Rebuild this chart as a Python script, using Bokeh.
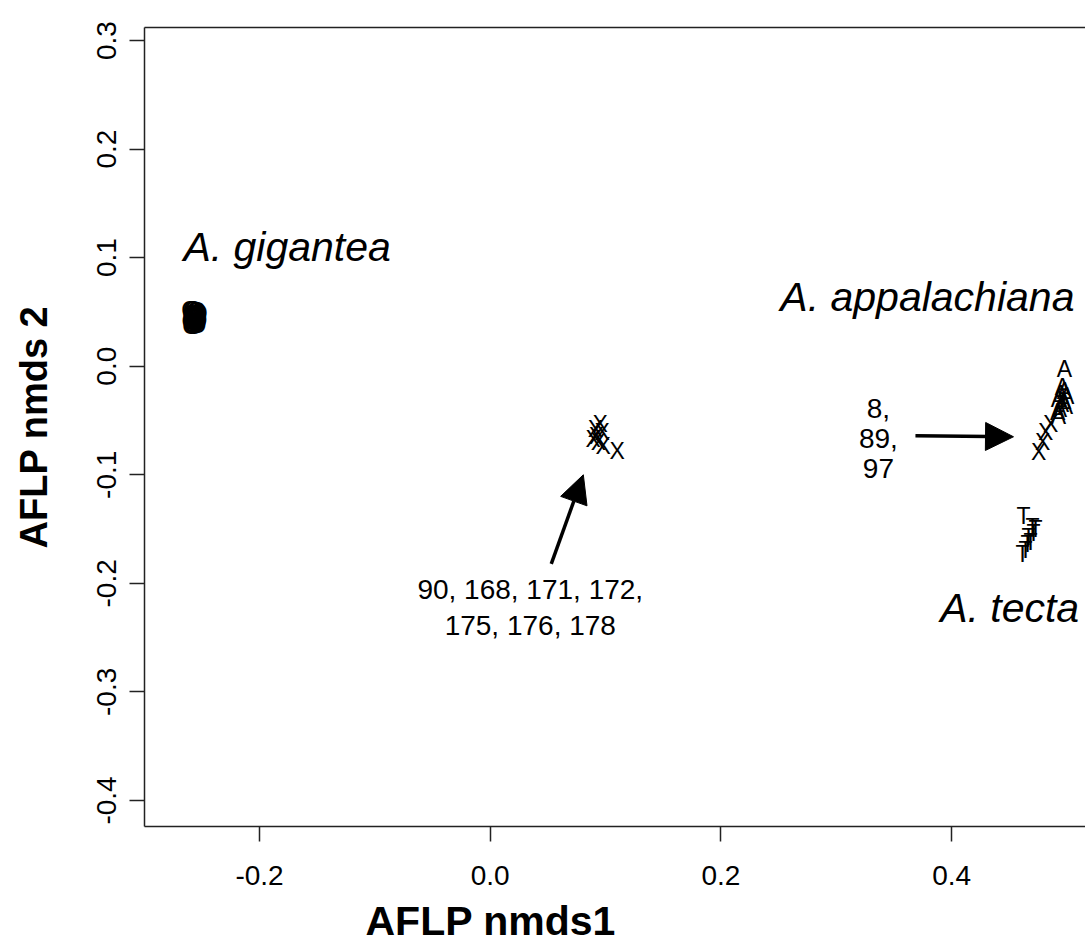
from bokeh.plotting import figure
from bokeh.models import FixedTicker, LinearAxis, Range1d, Arrow, NormalHead, NumeralTickFormatter, Title
from bokeh.core.properties import value
from bokeh.embed import file_html
from bokeh.resources import INLINE

# ---- data ----
gig_x = [-0.2600, -0.2585, -0.2570, -0.2555, -0.2540, -0.2527, -0.2595, -0.2578,
         -0.2562, -0.2548, -0.2532, -0.2590, -0.2575, -0.2558, -0.2543, -0.2529,
         -0.2598, -0.2580, -0.2565, -0.2550, -0.2535, -0.2588, -0.2572, -0.2553,
         -0.2538, -0.2593, -0.2567, -0.2545]
gig_y = [0.0520, 0.0515, 0.0522, 0.0510, 0.0505, 0.0490, 0.0480, 0.0470,
         0.0485, 0.0465, 0.0475, 0.0455, 0.0445, 0.0450, 0.0440, 0.0430,
         0.0420, 0.0410, 0.0425, 0.0400, 0.0405, 0.0390, 0.0380, 0.0385,
         0.0375, 0.0370, 0.0368, 0.0395]

hyb_x = [0.0954, 0.0911, 0.0971, 0.0893, 0.0937, 0.0980, 0.0920, 0.1100,
         0.4857, 0.4814, 0.4788, 0.4753]
hyb_y = [-0.0532, -0.0578, -0.0606, -0.0670, -0.0697, -0.0734, -0.0642, -0.0780,
         -0.0532, -0.0606, -0.0697, -0.0789]

app_x = [0.4978, 0.4961, 0.4978, 0.4944, 0.4996, 0.4926, 0.4970, 0.4952,
         0.4987, 0.4935, 0.4918, 0.4926]
app_y = [-0.0028, -0.0193, -0.0229, -0.0257, -0.0275, -0.0303, -0.0321, -0.0349,
         -0.0367, -0.0394, -0.0422, -0.0459]

tec_x = [0.4623, 0.4701, 0.4709, 0.4666, 0.4683, 0.4640, 0.4727, 0.4657, 0.4614]
tec_y = [-0.1376, -0.1477, -0.1541, -0.1569, -0.1615, -0.1697, -0.1495, -0.1642, -0.1734]

species_names = ["A. gigantea", "A. appalachiana", "A. tecta"]
species_x = [-0.266, 0.2515, 0.390]
species_y = [0.110, 0.064, -0.223]

note_lines = ["8,", "89,", "97", "90, 168, 171, 172,", "175, 176, 178"]
note_x = [0.3365, 0.3365, 0.3365, 0.0347, 0.0347]
note_y = [-0.039, -0.067, -0.094, -0.206, -0.239]

arrow_x0 = [0.0529, 0.3686]
arrow_y0 = [-0.182, -0.064]
arrow_x1 = [0.0807, 0.4536]
arrow_y1 = [-0.100, -0.065]

x_ticks = [-0.2, 0.0, 0.2, 0.4]
y_ticks = [-0.4, -0.3, -0.2, -0.1, 0.0, 0.1, 0.2, 0.3]

x_title = "AFLP nmds1"
y_title = "AFLP nmds 2"

FONT = "Liberation Sans"
AX = "#222222"

p = figure(width=1085, height=951,
           x_range=Range1d(-0.2997, 0.516), y_range=Range1d(-0.424, 0.312),
           output_backend="svg", toolbar_location=None,
           min_border_left=144, min_border_right=0,
           min_border_top=27, min_border_bottom=123)
p.outline_line_color = None
p.xgrid.visible = False
p.ygrid.visible = False
p.background_fill_color = "white"
p.border_fill_color = "white"

for ax in (p.xaxis[0], p.yaxis[0]):
    ax.axis_line_color = AX
    ax.axis_line_width = 1.5
    ax.major_tick_line_color = AX
    ax.major_tick_line_width = 1.5
    ax.major_tick_in = 0
    ax.major_tick_out = 15
    ax.minor_tick_line_color = None
    ax.major_label_text_font = FONT
    ax.major_label_text_font_size = "28px"
    ax.major_label_text_color = "black"
    ax.formatter = NumeralTickFormatter(format="0.0")

p.xaxis.ticker = FixedTicker(ticks=x_ticks)
p.yaxis.ticker = FixedTicker(ticks=y_ticks)
p.xaxis.major_label_standoff = 24
p.yaxis.major_label_orientation = "vertical"
p.yaxis.major_label_standoff = 13

# y-axis title as the axis' own label, set well out from the tick labels
p.yaxis.axis_label = y_title
p.yaxis.axis_label_text_font = FONT
p.yaxis.axis_label_text_font_size = "38px"
p.yaxis.axis_label_text_font_style = "bold"
p.yaxis.axis_label_text_color = "black"
p.yaxis.axis_label_standoff = 40

top = LinearAxis(ticker=FixedTicker(ticks=[]), axis_line_color=AX, axis_line_width=1.5,
                 major_tick_line_color=None, minor_tick_line_color=None,
                 major_label_standoff=0)
p.add_layout(top, "above")

p.add_layout(Title(text=x_title, align="left", offset=221, standoff=16,
                   text_font=FONT, text_font_size="41px", text_font_style="bold",
                   text_color="black"), "below")

def letters(xs, ys, ch, size="23px"):
    p.text(x=xs, y=ys, text=[ch] * len(xs), text_font=value(FONT),
           text_font_size=size, text_align="center", text_baseline="middle",
           text_color="black")

letters(gig_x, gig_y, "O", "23px")
letters(hyb_x, hyb_y, "X")
letters(app_x, app_y, "A")
letters(tec_x, tec_y, "T")

p.text(x=species_x, y=species_y, text=species_names, text_font=value(FONT),
       text_font_size="41px", text_font_style="italic", text_align="left",
       text_baseline="middle", text_color="black")

p.text(x=note_x, y=note_y, text=note_lines, text_font=value(FONT),
       text_font_size="28px", text_align="center", text_baseline="middle",
       text_color="black")

for xs, ys, xe, ye in zip(arrow_x0, arrow_y0, arrow_x1, arrow_y1):
    p.add_layout(Arrow(end=NormalHead(size=28, fill_color="black", line_color="black"),
                       x_start=xs, y_start=ys, x_end=xe, y_end=ye,
                       line_width=3.5, line_color="black"))

open("out.html", "w").write(file_html(p, INLINE))
